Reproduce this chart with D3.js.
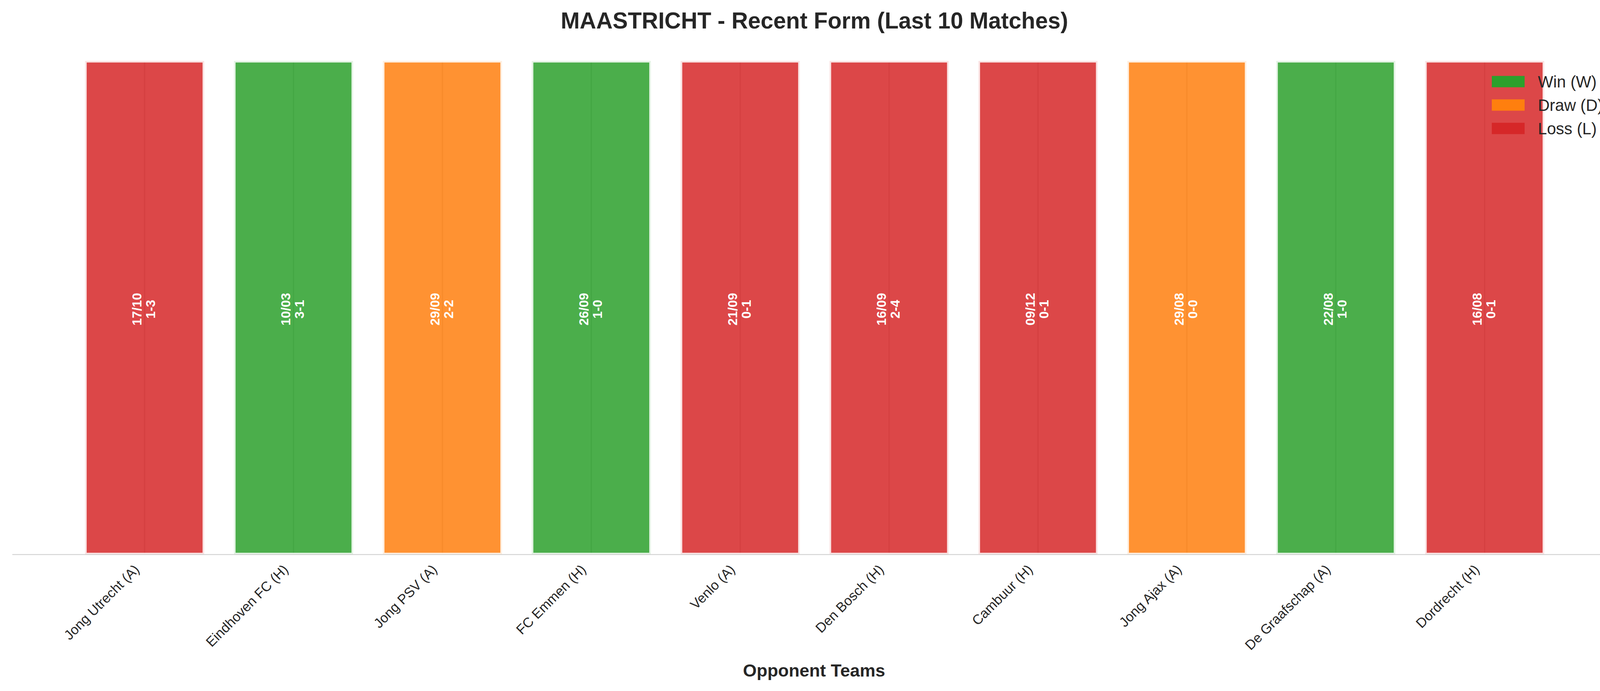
<!DOCTYPE html>
<html>
<head>
<meta charset="utf-8">
<script src="https://cdn.jsdelivr.net/npm/d3@7"></script>
<style>
  html, body { margin: 0; padding: 0; background: #fff; overflow: hidden; }
  svg { display: block; font-family: "Liberation Sans", Arial, sans-serif; }
</style>
</head>
<body>
<svg id="chart" width="4170" height="1770"></svg>
<script>
// match data, newest first
let teams = ["Jong Utrecht (A)", "Eindhoven FC (H)", "Jong PSV (A)", "FC Emmen (H)", "Venlo (A)",
  "Den Bosch (H)", "Cambuur (H)", "Jong Ajax (A)", "De Graafschap (A)", "Dordrecht (H)"];
let dates = ["17/10", "10/03", "29/09", "26/09", "21/09", "16/09", "09/12", "29/08", "22/08", "16/08"];
let scores = ["1-3", "3-1", "2-2", "1-0", "0-1", "2-4", "0-1", "0-0", "1-0", "0-1"];
let results = ["L", "W", "D", "W", "L", "L", "L", "D", "W", "L"];
let values = [1, 1, 1, 1, 1, 1, 1, 1, 1, 1];

let legendKeys = ["W", "D", "L"];
let legendLabels = ["Win (W)", "Draw (D)", "Loss (L)"];
let colorOf = { W: "#2ca02c", D: "#ff7f0e", L: "#d62728" };

let svg = d3.select("#chart");
let width = 4170;

// scales
let x = d3.scalePoint().domain(teams).range([31, 4140]).padding(0.89);
let y = d3.scaleLinear().domain([0, 1]).range([1420, 156]);
let barW = x.step() * 0.8;

// vertical grid
svg.append("g")
  .selectAll("line")
  .data(teams)
  .enter()
  .append("line")
  .attr("x1", (d) => x(d))
  .attr("x2", (d) => x(d))
  .attr("y1", y(1))
  .attr("y2", y(0))
  .attr("stroke", "#cccccc")
  .attr("stroke-width", 3.3);

// bars
svg.append("g")
  .selectAll("rect")
  .data(teams)
  .enter()
  .append("rect")
  .attr("x", (d) => x(d) - barW / 2)
  .attr("y", (d, i) => y(values[i]))
  .attr("width", barW)
  .attr("height", (d, i) => y(0) - y(values[i]))
  .attr("fill", (d, i) => colorOf[results[i]])
  .attr("fill-opacity", 0.85)
  .attr("stroke", "#ffffff")
  .attr("stroke-opacity", 0.85)
  .attr("stroke-width", 8.3);

// labels inside bars (date + score)
let lab = svg.append("g")
  .selectAll("text")
  .data(teams)
  .enter()
  .append("text")
  .attr("transform", (d, i) => `translate(${x(d)},${y(values[i] / 2) + 4}) rotate(-90)`)
  .attr("text-anchor", "middle")
  .attr("fill", "#ffffff")
  .attr("font-weight", "bold")
  .attr("font-size", 33.3);
lab.append("tspan").attr("x", 0).attr("y", -8).text((d, i) => dates[i]);
lab.append("tspan").attr("x", 0).attr("y", 27).text((d, i) => scores[i]);

// x axis
let axis = svg.append("g")
  .attr("transform", `translate(0,${y(0)})`)
  .call(d3.axisBottom(x).tickSize(0).tickSizeOuter(0));
axis.select(".domain").attr("stroke", "#cccccc").attr("stroke-width", 2.2);
axis.selectAll(".tick text")
  .attr("y", 0)
  .attr("dy", 0)
  .attr("transform", "translate(-12,41) rotate(-45)")
  .attr("text-anchor", "end")
  .attr("fill", "#262626")
  .attr("font-family", "Liberation Sans, Arial, sans-serif")
  .attr("font-size", 35);

// title + axis label
svg.append("text")
  .attr("x", width / 2)
  .attr("y", 73)
  .attr("text-anchor", "middle")
  .attr("font-weight", "bold")
  .attr("font-size", 58.3)
  .attr("fill", "#262626")
  .text("MAASTRICHT - Recent Form (Last 10 Matches)");

svg.append("text")
  .attr("x", 2084)
  .attr("y", 1733)
  .attr("text-anchor", "middle")
  .attr("font-weight", "bold")
  .attr("font-size", 45)
  .attr("fill", "#262626")
  .text("Opponent Teams");

// legend
let leg = svg.append("g")
  .selectAll("g")
  .data(legendKeys)
  .enter()
  .append("g")
  .attr("transform", (d, i) => `translate(3819,${209 + i * 60})`);
leg.append("rect")
  .attr("x", 0)
  .attr("y", -14.5)
  .attr("width", 84)
  .attr("height", 29)
  .attr("fill", (d) => colorOf[d]);
leg.append("text")
  .attr("x", 118)
  .attr("y", 15)
  .attr("font-size", 41.7)
  .attr("fill", "#262626")
  .text((d, i) => legendLabels[i]);
</script>
</body>
</html>
